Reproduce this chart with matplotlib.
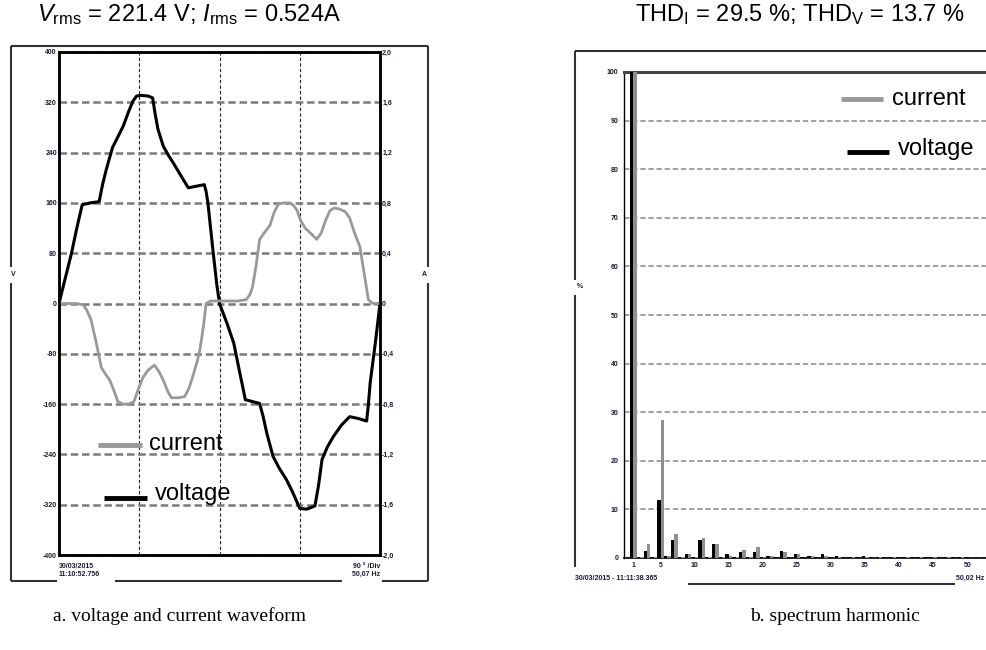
import numpy as np
import matplotlib.pyplot as plt

plt.rcParams['font.family'] = ['Liberation Sans', 'DejaVu Sans']
plt.rcParams['mathtext.fontset'] = 'custom'
plt.rcParams['mathtext.rm'] = 'Liberation Sans'
plt.rcParams['mathtext.it'] = 'Liberation Sans:italic'

# voltage waveform (degrees, V)
v_deg = [0, 7, 14, 20, 26, 35, 45, 49, 53, 60, 66, 72, 78, 83, 87, 91, 100, 105,
         108, 111, 117, 123, 128, 136, 145, 152, 163, 165, 167, 170, 173, 177, 180,
         188, 196, 202, 209, 217, 225, 229, 233, 240, 247, 255, 262, 270, 278, 287,
         291, 295, 301, 308, 317, 326, 336, 345, 347, 349, 355, 360]
v_val = [0, 40, 80, 120, 157, 160, 162, 190, 213, 248, 265, 282, 305, 322, 330, 331, 330, 327,
         300, 277, 250, 235, 224, 205, 184, 186, 189, 178, 160, 120, 80, 30, 0,
         -30, -63, -105, -153, -156, -159, -180, -206, -243, -262, -280, -300, -326, -327, -322,
         -290, -248, -228, -211, -193, -180, -183, -187, -160, -126, -60, 0]

# current waveform (degrees, A)
i_deg = [0, 20, 27, 31, 36, 42, 47.5, 52, 57, 62, 66, 72, 78, 84, 89, 94, 100, 107,
         112, 117, 122, 126, 134, 141, 146, 150, 155, 158, 162, 165, 170, 180, 200,
         210, 214, 217, 221, 225, 231, 236.5, 241, 246, 252, 259, 263, 267, 271, 276,
         282, 289, 294, 299, 304, 309, 315, 321, 326, 331, 337.5, 342, 347, 352, 360]
i_val = [0, 0, -0.01, -0.05, -0.13, -0.32, -0.51, -0.56, -0.61, -0.70, -0.78, -0.80, -0.80, -0.78, -0.68, -0.59, -0.53, -0.49,
         -0.54, -0.61, -0.70, -0.75, -0.75, -0.74, -0.67, -0.58, -0.46, -0.37, -0.18, 0.0, 0.02, 0.02, 0.02,
         0.03, 0.07, 0.13, 0.30, 0.51, 0.57, 0.62, 0.72, 0.79, 0.80, 0.80, 0.78, 0.74, 0.66, 0.60,
         0.56, 0.51, 0.56, 0.66, 0.74, 0.76, 0.75, 0.73, 0.68, 0.57, 0.45, 0.25, 0.03, 0.0, 0]

# harmonic spectrum (% of fundamental)
harm = np.arange(1, 51)
h_volt = [100, 0.3, 1.4, 0.2, 12.0, 0.4, 3.7, 0.2, 0.9, 0.2,
          3.7, 0.2, 2.9, 0.2, 0.9, 0.2, 1.3, 0.2, 1.2, 0.2,
          0.4, 0.2, 1.4, 0.2, 0.9, 0.2, 0.4, 0.2, 0.9, 0.2,
          0.4, 0.2, 0.3, 0.2, 0.4, 0.2, 0.3, 0.2, 0.3, 0.2,
          0.3, 0.2, 0.3, 0.2, 0.3, 0.2, 0.3, 0.2, 0.3, 0.2]
h_curr = [100, 0.3, 2.9, 0.2, 28.4, 0.4, 5.0, 0.2, 0.8, 0.2,
          4.2, 0.2, 2.9, 0.2, 0.5, 0.2, 1.7, 0.2, 2.2, 0.2,
          0.4, 0.1, 1.2, 0.1, 0.9, 0.1, 0.4, 0.1, 0.4, 0.1,
          0.3, 0.1, 0.3, 0.1, 0.3, 0.1, 0.3, 0.1, 0.3, 0.1,
          0.3, 0.1, 0.3, 0.1, 0.3, 0.1, 0.3, 0.1, 0.3, 0.1]

v_ticks = [400, 320, 240, 160, 80, 0, -80, -160, -240, -320, -400]
a_ticks = [2.0, 1.6, 1.2, 0.8, 0.4, 0, -0.4, -0.8, -1.2, -1.6, -2.0]
a_labels = ['2,0', '1,6', '1,2', '0,8', '0,4', '0', '-0,4', '-0,8', '-1,2', '-1,6', '-2,0']
pct_ticks = [0, 10, 20, 30, 40, 50, 60, 70, 80, 90, 100]
h_ticks = [1, 5, 10, 15, 20, 25, 30, 35, 40, 45, 50]

W, H = 987, 650
fig = plt.figure(figsize=(W / 100, H / 100), dpi=100)


def box(x0, y0, x1, y1):
    return [x0 / W, 1 - y1 / H, (x1 - x0) / W, (y1 - y0) / H]


tick_kw = dict(length=0, labelsize=5, labelcolor='#1a1a3a')

# ---- a. waveform ----
ax = fig.add_axes(box(59, 52, 380, 555))
ax.set_xlim(0, 360)
ax.set_ylim(-400, 400)
ax.set_xticks([0, 90, 180, 270, 360])
ax.set_xticklabels([])
ax.set_yticks(v_ticks)
ax.set_yticklabels([str(v) for v in v_ticks], fontweight='bold')
ax.tick_params(axis='both', pad=1.5, **tick_kw)
ax.grid(axis='x', ls=(0, (3, 2)), color='#222222', lw=0.8)
ax.grid(axis='y', ls=(0, (3, 1.5)), color='#7a7a7a', lw=1.8)
for s in ax.spines.values():
    s.set_linewidth(1.8)
ax.plot(v_deg, v_val, color='black', lw=2.2, zorder=5)

ax2 = ax.twinx()
ax2.set_ylim(-2, 2)
ax2.set_yticks(a_ticks)
ax2.set_yticklabels(a_labels, fontweight='bold')
ax2.tick_params(axis='y', pad=1.5, **tick_kw)
ax2.plot(i_deg, i_val, color='#999999', lw=2.0)
for s in ax2.spines.values():
    s.set_linewidth(1.8)

# ---- b. spectrum ----
ax3 = fig.add_axes(box(624, 72, 1000, 558))
ax3.bar(harm - 0.2, h_volt, width=0.5, color='black', zorder=3)
ax3.bar(harm + 0.3, h_curr, width=0.5, color='#8f8f8f', zorder=3)
ax3.set_xlim(-0.32, 54.8)
ax3.set_ylim(0, 100)
ax3.set_xticks(h_ticks)
ax3.set_xticklabels([str(h) for h in h_ticks], fontweight='bold')
ax3.set_yticks(pct_ticks)
ax3.set_yticklabels([str(p) for p in pct_ticks], fontweight='bold')
ax3.tick_params(axis='x', pad=3, **tick_kw)
ax3.tick_params(axis='y', pad=4, **tick_kw)
ax3.grid(axis='y', ls=(0, (3, 1.5)), color='#9a9a9a', lw=1.3, zorder=0)
ax3.spines['top'].set_linewidth(2.2)
ax3.spines['top'].set_color('#444444')
ax3.spines['left'].set_linewidth(1.0)
ax3.spines['bottom'].set_linewidth(1.2)

# ---- overlay: instrument frames, legends, captions ----
ov = fig.add_axes([0, 0, 1, 1], zorder=10)
ov.set_xlim(0, W)
ov.set_ylim(H, 0)
ov.axis('off')
ov.patch.set_alpha(0)

frame_kw = dict(color='#333333', lw=1.5, solid_capstyle='butt')
for xs, ys in [([11, 428], [46, 46]), ([11, 11], [46, 267]), ([11, 11], [283, 581]),
               ([11, 57], [581, 581]), ([115, 342], [581, 581]), ([382, 428], [581, 581]),
               ([428, 428], [46, 267]), ([428, 428], [283, 581]),
               ([575, 987], [51, 51]), ([575, 575], [51, 280]), ([575, 575], [295, 567]),
               ([688, 955], [584, 584])]:
    ov.plot(xs, ys, **frame_kw)

small = dict(fontsize=5, fontweight='bold', color='#1a1a3a')
ov.text(13, 275, 'V', ha='center', va='center', **small)
ov.text(424, 275, 'A', ha='center', va='center', **small)
ov.text(580, 287, '%', ha='center', va='center', **small)
ov.text(59, 566, '30/03/2015', ha='left', va='center', **small)
ov.text(59, 574, '11:10:52.756', ha='left', va='center', **small)
ov.text(380, 566, '90 ° /Div', ha='right', va='center', **small)
ov.text(380, 574, '50,07 Hz', ha='right', va='center', **small)
ov.text(575, 578, '30/03/2015 - 11:11:38.365', ha='left', va='center', **small)
ov.text(956, 578, '50,02 Hz', ha='left', va='center', **small)

# legends
ov.plot([98, 142], [445, 445], color='#999999', lw=3.5, solid_capstyle='butt')
ov.text(149, 450, 'current', fontsize=17, va='baseline')
ov.plot([104, 147], [498, 498], color='black', lw=3.5, solid_capstyle='butt')
ov.text(155, 500, 'voltage', fontsize=17, va='baseline')
ov.plot([841, 883], [99, 99], color='#999999', lw=3.5, solid_capstyle='butt')
ov.text(892, 105, 'current', fontsize=17, va='baseline')
ov.plot([847, 889], [152, 152], color='black', lw=3.5, solid_capstyle='butt')
ov.text(898, 155, 'voltage', fontsize=17, va='baseline')

# headers and captions
ov.text(37, 21, r'$V_{\rm rms}$ = 221.4 V; $I_{\rm rms}$ = 0.524A', fontsize=17, va='baseline')
ov.text(965, 21, r'THD$_{\rm I}$ = 29.5 %; THD$_{\rm V}$ = 13.7 %', fontsize=17,
        va='baseline', ha='right')
ov.text(53, 621, 'a. voltage and current waveform', fontsize=14,
        family='Liberation Serif', va='baseline')
ov.text(750, 621, 'b. spectrum harmonic', fontsize=14,
        family='Liberation Serif', va='baseline')

fig.savefig('out.png', dpi=100)
